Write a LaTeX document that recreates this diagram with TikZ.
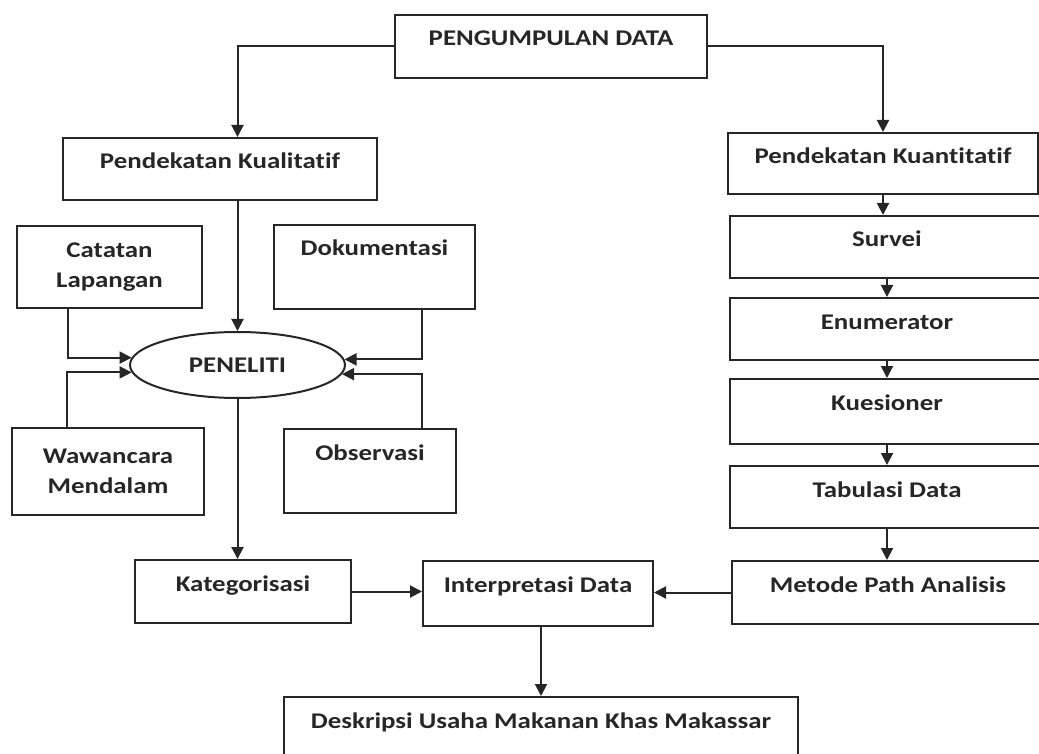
\documentclass[tikz,border=0pt]{standalone}
\usepackage{fontspec}
\setmainfont{Carlito}[FakeStretch=1.2, Ligatures=NoCommon]
\usetikzlibrary{arrows.meta,shapes.geometric}

\tikzset{
  box/.style 2 args={draw=black!85, line width=1pt, rectangle, anchor=north,
    inner xsep=0pt, inner ysep=0pt, minimum width=#1,
    text height=15.5pt, text depth=#2},
  box2/.style={draw=black!85, line width=1pt, rectangle, align=center, inner sep=0pt},
  arr/.style={draw=black!85, line width=1pt, -{Triangle[length=6pt,width=6pt]}}
}

\begin{document}
\begin{tikzpicture}[x=0.5pt, y=-0.5pt, font=\fontsize{11.2}{15}\selectfont\bfseries, text=black!85]
  \useasboundingbox (0,0) rectangle (1039,754);

  % top
  \node[box={156pt}{16pt}] (pengumpulan) at (551,14) {PENGUMPULAN DATA};
  \node[box={157pt}{15.5pt}] (kualitatif) at (220,137) {Pendekatan Kualitatif};
  \node[box={155pt}{15pt}] (kuantitatif) at (883,132) {Pendekatan Kuantitatif};

  % right column
  \node[box={157pt}{15.5pt}] (survei) at (887,215) {Survei};
  \node[box={157pt}{15.5pt}] (enumerator) at (887,297) {Enumerator};
  \node[box={157pt}{17pt}] (kuesioner) at (887,378) {Kuesioner};
  \node[box={157pt}{15.5pt}] (tabulasi) at (887,465) {Tabulasi Data};
  \node[box={156pt}{16pt}] (metode) at (888,560) {Metode Path Analisis};

  % left part
  \node[box2, minimum width=92.5pt, minimum height=41pt] (catatan) at (109.5,267) {Catatan\\Lapangan};
  \node[box={100.5pt}{26.5pt}] (dokumentasi) at (374.5,224) {Dokumentasi};
  \node[ellipse, draw=black!85, line width=1pt, minimum width=107.5pt, minimum height=33pt, inner sep=0pt] (peneliti) at (237.5,365) {PENELITI};
  \node[box2, minimum width=96pt, minimum height=43.5pt] (wawancara) at (108,471.5) {Wawancara\\Mendalam};
  \node[box={86pt}{26.5pt}] (observasi) at (370,428) {Observasi};

  % bottom
  \node[box={108pt}{16pt}] (kategorisasi) at (243,559) {Kategorisasi};
  \node[box={115pt}{17pt}] (interpretasi) at (538,560) {Interpretasi Data};
  \node[box={257pt}{40pt}] (deskripsi) at (541,696) {Deskripsi Usaha Makanan Khas Makassar};

  % connectors
  \draw[arr] (pengumpulan.west) -| (kualitatif.north -| peneliti);
  \draw[arr] (pengumpulan.east) -| (kuantitatif.north);
  \draw[arr] (kualitatif.south -| peneliti) -- (peneliti.north);
  \draw[arr] ([xshift=-21pt]catatan.south) |- (peneliti.176);
  \draw[arr] ([xshift=-20.5pt]wawancara.north) |- (peneliti.184.4);
  \draw[arr] ([xshift=23.75pt]dokumentasi.south) |- (peneliti.3.8);
  \draw[arr] ([xshift=26pt]observasi.north) |- (peneliti.355.6);
  \draw[arr] (peneliti.south) -- (peneliti.south |- kategorisasi.north);
  \foreach \a/\b in {kuantitatif/survei, survei/enumerator, enumerator/kuesioner, kuesioner/tabulasi, tabulasi/metode}
    \draw[arr] (\a.south) -- (\a.south |- \b.north);
  \draw[arr] (kategorisasi.east) -- (kategorisasi.east -| interpretasi.west);
  \draw[arr] (metode.west) -- (metode.west -| interpretasi.east);
  \draw[arr] (interpretasi.south -| deskripsi.north) -- (deskripsi.north);
\end{tikzpicture}
\end{document}
